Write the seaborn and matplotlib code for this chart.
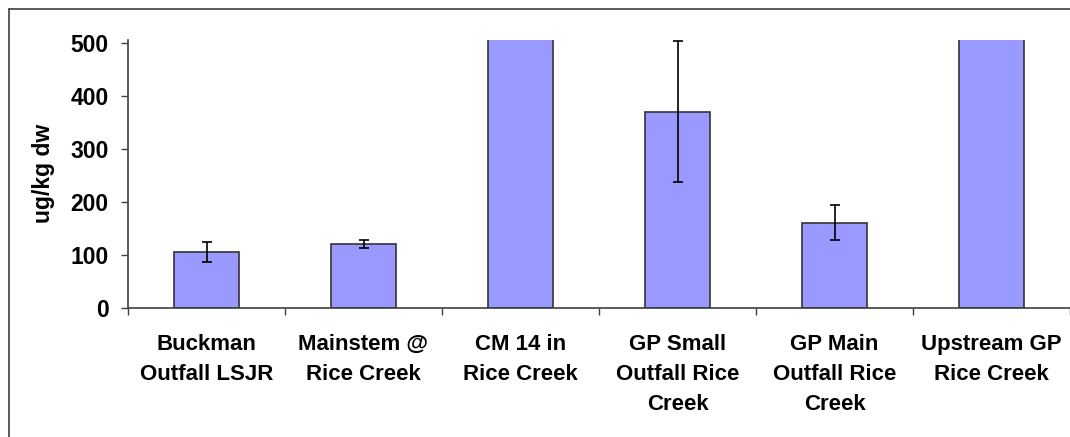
import matplotlib
matplotlib.use("Agg")
import matplotlib.pyplot as plt
from matplotlib.lines import Line2D
import numpy as np
import pandas as pd
import seaborn as sns

# Sediment concentrations by sampling site (ug/kg dry weight)
sites = [
    "Buckman\nOutfall LSJR",
    "Mainstem @\nRice Creek",
    "CM 14 in\nRice Creek",
    "GP Small\nOutfall Rice\nCreek",
    "GP Main\nOutfall Rice\nCreek",
    "Upstream GP\nRice Creek",
]
conc = [105, 120, 1150, 370, 160, 880]
conc_err = [19, 8, np.nan, 133, 33, np.nan]
y_ticks = [0, 100, 200, 300, 400, 500]

sns.set_style("ticks")
plt.rcParams["font.family"] = ["Liberation Sans", "DejaVu Sans"]
plt.rcParams["font.weight"] = "bold"
plt.rcParams["text.color"] = "black"
plt.rcParams["xtick.labelcolor"] = "black"
plt.rcParams["ytick.labelcolor"] = "black"
plt.rcParams["axes.labelcolor"] = "black"

df = pd.DataFrame({"site": sites, "conc": conc})

fig = plt.figure(figsize=(10.70, 4.37), dpi=100)
ax = fig.add_axes([128 / 1070, 1 - 307.7 / 437, 1 - 128 / 1070, (307.7 - 39.5) / 437])

sns.barplot(data=df, x="site", y="conc", color="#9999FF", saturation=1,
            edgecolor="#333333", linewidth=1.2, width=0.41, errorbar=None, ax=ax)
ax.errorbar(np.arange(len(sites)), conc, yerr=conc_err, fmt="none",
            ecolor="black", elinewidth=1.2, capsize=3.8, capthick=1.2)

ax.set_ylim(0, 506)
ax.set_xlim(-0.5, len(sites) - 0.5)
ax.set_yticks(y_ticks)
ax.set_yticklabels([str(v) for v in y_ticks], fontsize=16.5, fontweight="bold")

# category boundaries carry the tick marks, labels sit at bar centres
ax.set_xticks(np.arange(-0.5, len(sites), 1.0))
ax.set_xticklabels([])
ax.set_xticks(np.arange(len(sites)), minor=True)
ax.set_xticklabels(sites, minor=True, fontsize=16, fontweight="bold",
                   linespacing=1.55)
ax.tick_params(axis="x", which="major", length=5, width=1, color="#404040",
               direction="out")
ax.tick_params(axis="x", which="minor", length=0, pad=19)
ax.tick_params(axis="y", length=5, width=1, color="#404040", pad=9)

ax.set_xlabel("")
ax.set_ylabel("ug/kg dw", fontsize=16.5, fontweight="bold", labelpad=11)

for side in ("top", "right"):
    ax.spines[side].set_visible(False)
for side in ("left", "bottom"):
    ax.spines[side].set_color("#404040")
    ax.spines[side].set_linewidth(1.2)

# outer frame lines on the chart area
fig.add_artist(Line2D([8.5 / 1070, 8.5 / 1070], [0, 1 - 8.5 / 437],
                      transform=fig.transFigure, color="#404040", lw=1.2))
fig.add_artist(Line2D([8.5 / 1070, 1], [1 - 8.5 / 437, 1 - 8.5 / 437],
                      transform=fig.transFigure, color="#404040", lw=1.2))

fig.savefig("out.png", dpi=100)
